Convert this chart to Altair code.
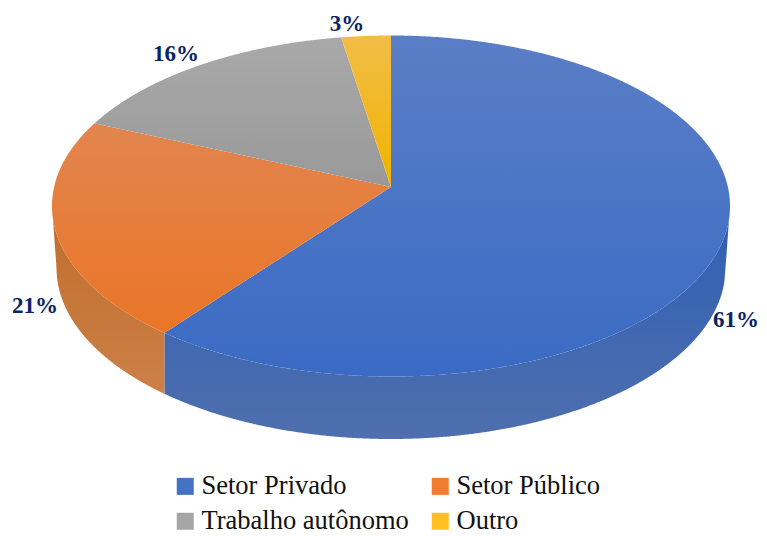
import numpy as np
import pandas as pd
import altair as alt

categories = ["Setor Privado", "Setor Público", "Trabalho autônomo", "Outro"]
shares = [61.65, 21.4, 14.6, 2.35]
labels = ["61%", "21%", "16%", "3%"]
legend_colors = ["#4472C4", "#F27C32", "#A5A5A5", "#FFC020"]

# perspective disc geometry, in image pixels
CX, CY, RX, RY = 391.0, 206.0, 339.0, 170.5
APEX = (391.0, 187.0)
BCY, BRX, BRY = 268.0, 334.5, 171.0

FACE_GRAD = [("#5A7EC6", "#3A6BC4"), ("#E2854F", "#EA7526"), ("#A9A9A9", "#999999"), ("#F2BD48", "#F0B400")]
WALL_GRAD = {0: ("#2F5FB4", "#4F6FAE"), 1: ("#BF6D2A", "#CC8048")}
LABEL_POS = [(736, 320), (35, 306), (176, 54), (347, 24)]

XS = alt.Scale(domain=[8, 759], nice=False, zero=False)
YS = alt.Scale(domain=[536, 8], nice=False, zero=False)


def grad(pair):
    return alt.Gradient(gradient="linear", x1=0, x2=0, y1=0, y2=1,
                        stops=[alt.GradientStop(color=pair[0], offset=0),
                               alt.GradientStop(color=pair[1], offset=1)])


def rim(a, b, n=240):
    t = np.linspace(a, b, n)
    return CX + RX * np.sin(t), CY - RY * np.cos(t)


def face_table(a, b):
    rx, ry = rim(a, b)
    px = np.r_[APEX[0], rx]
    py = np.r_[APEX[1], ry]
    xs = np.unique(np.r_[np.linspace(px.min(), px.max(), 500), px - 0.01, px + 0.01])
    xs = xs[(xs >= px.min()) & (xs <= px.max())]
    rows = []
    qx, qy = np.roll(px, -1), np.roll(py, -1)
    for x in xs:
        hit = ((px <= x) & (x < qx)) | ((qx <= x) & (x < px))
        if hit.sum() < 2:
            continue
        ys = py[hit] + (x - px[hit]) * (qy[hit] - py[hit]) / (qx[hit] - px[hit])
        rows.append((float(x), float(ys.min()), float(ys.max())))
    return pd.DataFrame(rows, columns=["x", "y", "y2"])


def wall_table(a, b):
    rx, _ = rim(a, b)
    xs = np.linspace(rx.min(), rx.max(), 400)
    top = CY + RY * np.sqrt(np.clip(1 - ((xs - CX) / RX) ** 2, 0, 1))
    inner = np.abs(xs - CX) <= BRX
    bot = np.where(inner,
                   BCY + BRY * np.sqrt(np.clip(1 - ((xs - CX) / BRX) ** 2, 0, 1)),
                   CY + (BCY - CY) * (RX - np.abs(xs - CX)) / (RX - BRX))
    return pd.DataFrame({"x": xs, "y": top, "y2": bot})


def area(d, g):
    return alt.Chart(d).mark_area(color=g).encode(
        x=alt.X("x:Q", scale=XS, axis=None),
        y=alt.Y("y:Q", scale=YS, axis=None),
        y2="y2",
    )


cum = np.r_[0, np.cumsum(shares)] / sum(shares) * 2 * np.pi
layers = []

legend_df = pd.DataFrame({"c": categories, "x": [APEX[0]] * 4, "y": [APEX[1]] * 4})
layers.append(alt.Chart(legend_df).mark_point(filled=True, shape="square", size=4, opacity=1).encode(
    x=alt.X("x:Q", scale=XS, axis=None),
    y=alt.Y("y:Q", scale=YS, axis=None),
    color=alt.Color("c:N", scale=alt.Scale(domain=categories, range=legend_colors), sort=categories,
                    legend=alt.Legend(title=None, orient="none", legendX=164, legendY=465, columns=2,
                                      direction="horizontal",
                                      symbolType="square", symbolSize=289, symbolStrokeWidth=0,
                                      labelFont="Liberation Serif", labelFontSize=26.5, labelColor="#111111",
                                      labelLimit=400, columnPadding=18, rowPadding=8, labelOffset=3,
                                      symbolOffset=0, padding=0)),
))

# side walls (only the front half of the disc shows them)
layers.append(area(wall_table(np.pi / 2, cum[1]), grad(WALL_GRAD[0])))
layers.append(area(wall_table(cum[1], 3 * np.pi / 2), grad(WALL_GRAD[1])))

# top faces
for i in range(4):
    layers.append(area(face_table(cum[i], cum[i + 1]), grad(FACE_GRAD[i])))

label_df = pd.DataFrame({"t": labels, "x": [p[0] for p in LABEL_POS], "y": [p[1] for p in LABEL_POS]})
layers.append(alt.Chart(label_df).mark_text(font="Liberation Serif", fontWeight="bold", fontSize=23,
                                            color="#0A2463", align="center", baseline="middle").encode(
    x=alt.X("x:Q", scale=XS, axis=None),
    y=alt.Y("y:Q", scale=YS, axis=None),
    text="t:N",
))

chart = alt.layer(*layers).properties(
    width=751, height=528, padding=0,
    autosize=alt.AutoSizeParams(type="none"),
).configure_view(stroke=None)

chart.save("out.html", embed_options={"renderer": "svg", "actions": False})
